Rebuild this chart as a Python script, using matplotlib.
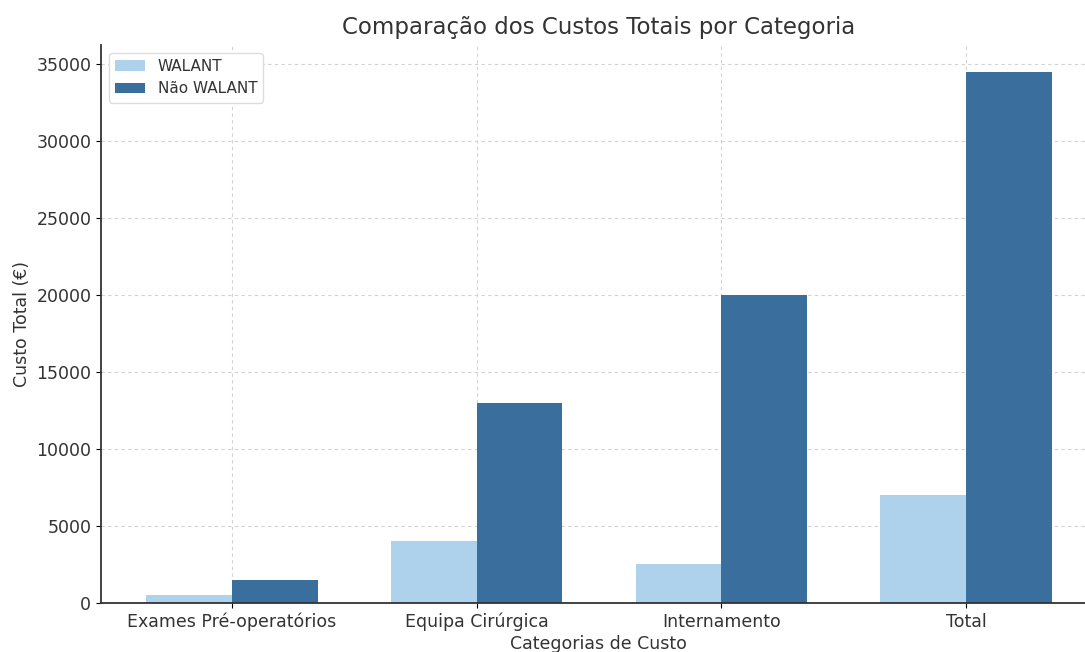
import numpy as np
import matplotlib.pyplot as plt

# Data
categorias = ['Exames Pré-operatórios', 'Equipa Cirúrgica', 'Internamento', 'Total']
walant = [500, 4000, 2500, 7000]
nao_walant = [1500, 13000, 20000, 34500]

cor_walant = '#aed1ec'
cor_nao = '#3a6e9c'

fig = plt.figure(figsize=(10.85, 6.52), dpi=100)
ax = fig.add_axes([101 / 1085, 49 / 652, 984 / 1085, 558 / 652])

x = np.arange(len(categorias))
w = 0.35
ax.bar(x - w / 2, walant, w, label='WALANT', color=cor_walant)
ax.bar(x + w / 2, nao_walant, w, label='Não WALANT', color=cor_nao)

# plot is cut on the right side in the original
ax.set_xlim(-0.535, 3.486)

ax.set_xticks(x)
ax.set_xticklabels(categorias, fontsize=12.5, color='#333333')
ax.tick_params(axis='y', labelsize=12.5, labelcolor='#333333')
ax.set_xlabel('Categorias de Custo', fontsize=12.5, color='#333333', labelpad=3, x=0.506)
ax.set_ylabel('Custo Total (€)', fontsize=12.5, color='#333333')
ax.set_title('Comparação dos Custos Totais por Categoria', fontsize=16.5, color='#333333',
             pad=8, x=0.506)

ax.grid(True, linestyle=(0, (3, 3)), color='#d2d2d2', linewidth=0.8)
ax.set_axisbelow(True)
for s in ['top', 'right']:
    ax.spines[s].set_visible(False)
for s in ['left', 'bottom']:
    ax.spines[s].set_color('#333333')
    ax.spines[s].set_linewidth(1.3)

ax.legend(loc='upper left', fontsize=11, framealpha=1, edgecolor='#dddddd',
          labelcolor='#333333')

plt.savefig('out.png', dpi=100)
